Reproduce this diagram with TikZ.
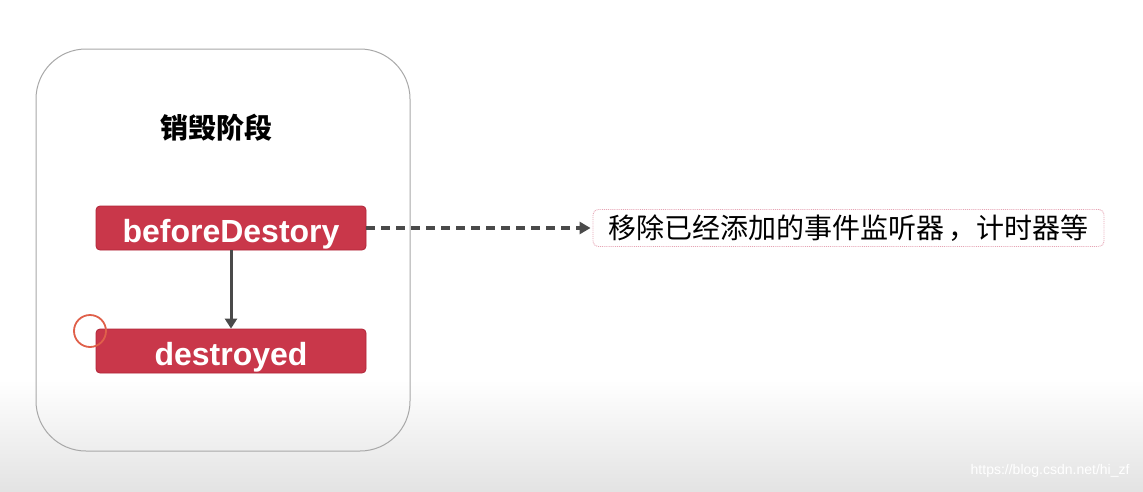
\documentclass[tikz,border=0pt]{standalone}
\usepackage{fontspec}
\setmainfont{Liberation Sans}
\newfontfamily\cjk{Noto Sans CJK SC}
\usetikzlibrary{arrows.meta}
\definecolor{redbox}{HTML}{C9374A}
\definecolor{redline}{HTML}{B02538}
\definecolor{darkarrow}{HTML}{4A4A4A}
\definecolor{pinkdot}{HTML}{E6A4B4}
\definecolor{outline}{HTML}{A8A8A8}
\definecolor{circ}{HTML}{E0604A}
\definecolor{bgbottom}{HTML}{E3E3E3}
\tikzset{
  hookbox/.style={draw=redline, line width=0.8pt, fill=redbox, rounded corners=4pt,
    minimum width=270pt, minimum height=44pt, inner sep=0pt, text=white,
    text height=34pt, text depth=6pt,
    font=\fontsize{32}{36}\selectfont\bfseries},
  notebox/.style={draw=pinkdot, densely dotted, line width=0.9pt, rounded corners=5pt,
    minimum width=511pt, minimum height=37pt, inner sep=0pt,
    font=\cjk\fontsize{28}{30}\selectfont},
  solidarrow/.style={draw=darkarrow, line width=3pt, -{Triangle[length=10pt,width=12pt]}},
  dasharrow/.style={draw=darkarrow, line width=3.5pt, dash pattern=on 9pt off 6pt,
    -{Triangle[length=11pt,width=12pt]}},
}
\begin{document}
\begin{tikzpicture}[x=1pt,y=-1pt]
\useasboundingbox (0,0) rectangle (1143,491);
\fill[white] (0,0) rectangle (1143,380);
\shade[top color=white, bottom color=bgbottom] (0,379.5) rectangle (1143,491);
% outer phase frame
\draw[outline, line width=1pt, rounded corners=50pt] (36,49) rectangle (410,451);
\node[font=\cjk\bfseries\fontsize{28}{32}\selectfont] (title) at (216,128) {销毁阶段};
\node[hookbox] (before) at (231,228) {beforeDestory};
\node[hookbox] (destroyed) at (231,351) {destroyed};
\node[notebox] (note) at (848.5,228) {移除已经添加的事件监听器\,，计时器等};
\draw[solidarrow] (before.south) -- (destroyed.north);
\draw[dasharrow] (before.east) -- ([xshift=-2pt]note.west);
\draw[circ, line width=1.8pt] (90,331) circle (16pt);
\node[text=white, font=\fontsize{14}{16}\selectfont, anchor=east] (wm) at (1133,471) {https://blog.csdn.net/hi\_zf};
\end{tikzpicture}
\end{document}
